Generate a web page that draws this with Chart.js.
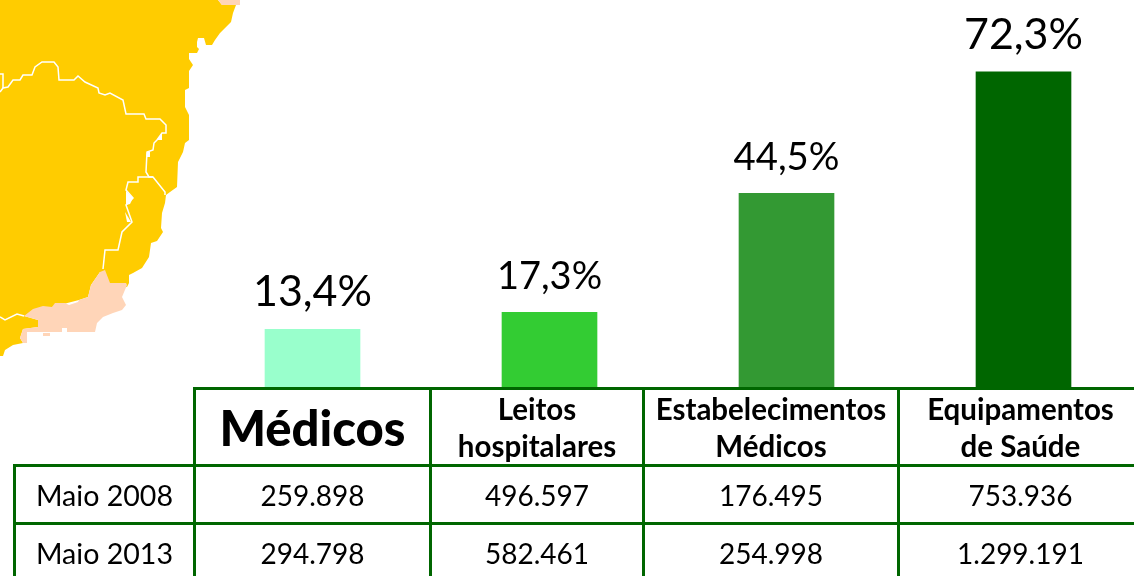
<!DOCTYPE html>
<html lang="pt">
<head>
<meta charset="utf-8">
<title>Médicos, leitos, estabelecimentos e equipamentos</title>
<script src="https://cdn.jsdelivr.net/npm/chart.js@4"></script>
<style>
    html, body { margin: 0; padding: 0; width: 1134px; height: 576px; overflow: hidden; background: #fff; }
    #map { position: absolute; left: 0; top: 0; }
    #chart { position: absolute; left: 0; top: 0; }
    #grid { position: absolute; left: 13px; top: 387px; width: 1128px; border-collapse: collapse; table-layout: fixed;
        font-family: Lato, sans-serif; color: #000; text-align: center; }
    #grid td, #grid th { border: 3px solid #006600; padding: 0; overflow: visible; white-space: nowrap; }
    #grid th { height: 71px; font-size: 29.5px; line-height: 37px; font-weight: 700; }
    #grid th.big { font-size: 49px; font-weight: 900; }
    #grid th.empty { border-top: none; border-left: none; }
    #grid td { height: 55px; font-size: 28px; }
    #grid td:first-child { font-size: 28.6px; }
</style>
</head>
<body>
<svg id="map" width="260" height="360">
    <path fill="#FFCC00" d="M0 0H218L222 5H236L233 13L231 22L220 33L215 40L212 45H206L204 38H198L197 42V47L199 49L197 53H189V59L193 65L189 71V88L185 90V107L189 115V140L185 143L183 152L178 162L177 187L170 192L166 195L165 203L162 213L161 228L163 232L157 241L151 243L149 257L142 268L133 273L129 275V283L127 287L105 283L100 272L91 285L88 297L79 300L52 307L24 316L38 320V327L23 329L20 338L23 343L13 345L5 350L3 356H0Z"/>
    <path fill="#FFD5B8" d="M218 0H240V5H222ZM24 316L33 309L43 306L52 307L55 303H65L69 305L78 302L79 300L88 297L91 285L100 272L105 270L110 283H126L127 285L122 297L126 305L122 310L113 313L103 317L97 323L95 332H67V328H62V332H27V343H23L20 338L23 329L38 327V320ZM43 333H50V336H43Z"/>
    <g fill="none" stroke="#fff" stroke-width="1.5">
        <path d="M0 92L3 88L8 87L13 80H20L23 75H32L35 67L42 62H54L58 67L59 80H74L78 76L85 82L98 88L99 93L105 95L110 93L123 100L126 114H144L146 119H160L166 125V133H162L157 140L154 143L153 150L147 152L146 172L149 177L153 177L165 192V195"/>
        <path d="M153 177H138V182H128L126 190L133 198L126 205L132 222L122 232L118 250H105L103 269"/>
        <path d="M0 74H3V88"/>
        <path d="M0 317L5 320L17 314L24 316"/>
    </g>
    <g fill="#fff">
        <path d="M126 191L133 198L130 204L126 205Z"/>
        <path d="M125 212L131 222L127 222Z"/>
        <path d="M157 140L162 133V140Z"/>
        <path d="M147 152H150V157H146Z"/>
    </g>
</svg>
<canvas id="chart" width="1142" height="388"></canvas>
<table id="grid"></table>
<script>
const categories = ['Médicos', 'Leitos hospitalares', 'Estabelecimentos Médicos', 'Equipamentos de Saúde'];
const growth = [13.4, 17.3, 44.5, 72.3];
const growthLabels = ['13,4%', '17,3%', '44,5%', '72,3%'];
const barColors = ['#99FFCC', '#33CC33', '#339933', '#006600'];

const headers = [['Médicos'], ['Leitos', 'hospitalares'], ['Estabelecimentos', 'Médicos'], ['Equipamentos', 'de Saúde']];
const rowNames = ['Maio 2008', 'Maio 2013'];
const maio2008 = ['259.898', '496.597', '176.495', '753.936'];
const maio2013 = ['294.798', '582.461', '254.998', '1.299.191'];

const colWidths = [180, 236, 213, 255, 244];
const labelSizes = [43, 38, 38.3, 43];

// rotulos em cima das barras
const valueLabels = {
    id: 'valueLabels',
    afterDatasetsDraw(chart) {
        const ctx = chart.ctx;
        const meta = chart.getDatasetMeta(0);
        ctx.save();
        ctx.textAlign = 'center';
        ctx.textBaseline = 'alphabetic';
        ctx.fillStyle = '#000';
        meta.data.forEach((bar, i) => {
            ctx.font = `${labelSizes[i]}px Lato, sans-serif`;
            ctx.fillText(growthLabels[i], bar.x, bar.y - 23);
        });
        ctx.restore();
    }
};

new Chart(document.getElementById('chart'), {
    type: 'bar',
    data: {
        labels: categories,
        datasets: [{
            data: growth,
            backgroundColor: barColors,
            barThickness: 95
        }]
    },
    options: {
        responsive: false,
        animation: false,
        layout: { padding: { left: 194 } },
        plugins: { legend: { display: false }, tooltip: { enabled: false } },
        scales: {
            x: { display: false },
            y: { display: false, min: 0, max: 88.7 }
        }
    },
    plugins: [valueLabels]
});

// tabela embaixo do grafico
const grid = document.getElementById('grid');
const colgroup = document.createElement('colgroup');
colWidths.forEach(w => {
    const col = document.createElement('col');
    col.style.width = w + 'px';
    colgroup.appendChild(col);
});
grid.appendChild(colgroup);

const headRow = grid.insertRow();
const corner = document.createElement('th');
corner.className = 'empty';
headRow.appendChild(corner);
headers.forEach((lines, i) => {
    const th = document.createElement('th');
    if (i === 0) th.className = 'big';
    th.innerHTML = lines.join('<br>');
    headRow.appendChild(th);
});

[maio2008, maio2013].forEach((values, r) => {
    const row = grid.insertRow();
    row.insertCell().textContent = rowNames[r];
    values.forEach(v => { row.insertCell().textContent = v; });
});
</script>
</body>
</html>
